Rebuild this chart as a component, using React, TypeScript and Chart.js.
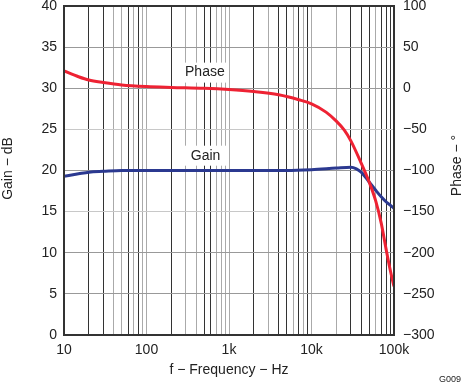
import React, { useEffect, useRef } from 'react';
import { Chart, registerables } from 'chart.js';

Chart.register(...registerables);

// ---- data ----
const phaseFreqs = [10, 15, 20, 30, 50, 100, 200, 500, 1000, 2000, 4000, 7000, 10000, 15000, 20000, 25000, 30000, 40000, 50000, 60000, 70000, 80000, 90000, 100000];
const phaseValues = [21, 14, 10, 7, 4, 2, 1, 0, -1.5, -4, -8, -14, -19, -29, -40, -51, -64, -91, -114, -137, -164, -195, -221, -241];

const gainFreqs = [10, 15, 20, 30, 50, 100, 1000, 5000, 10000, 20000, 30000, 35000, 40000, 50000, 60000, 70000, 80000, 90000, 100000];
const gainValues = [19.3, 19.6, 19.8, 19.9, 20.0, 20.0, 20.0, 20.0, 20.1, 20.3, 20.4, 20.2, 19.8, 18.6, 17.6, 16.8, 16.2, 15.8, 15.4];

const xTickValues = [10, 100, 1000, 10000, 100000];
const xTickLabels = ['10', '100', '1k', '10k', '100k'];
const xGridValues: number[] = [];
[10, 100, 1000, 10000].forEach((d) => {
  for (let m = 1; m < 10; m++) xGridValues.push(d * m);
});
xGridValues.push(100000);

const darkGridX = [20, 30, 60, 80, 200, 500, 600, 2000, 4000, 5000, 7000, 9000, 30000, 40000, 50000, 70000, 80000, 90000];
const lightGridY = [25, 15];

const FONT = "'Liberation Sans', Arial, Helvetica, sans-serif";
const TEXT = '#222';

const decorPlugin = {
  id: 'decor',
  beforeDatasetsDraw(chart: any) {
    const { ctx, scales } = chart;
    const x = scales.x;
    const y = scales.y;
    ctx.save();
    ctx.font = `14px ${FONT}`;
    ctx.textAlign = 'center';
    ctx.textBaseline = 'middle';
    const labels = [
      { text: 'Phase', xv: 510, yv: 31.9 },
      { text: 'Gain', xv: 520, yv: 21.8 },
    ];
    labels.forEach((l) => {
      const px = x.getPixelForValue(l.xv);
      const py = y.getPixelForValue(l.yv);
      ctx.fillStyle = '#fff';
      ctx.fillRect(px - 23, py - 10, 46, 20);
      ctx.fillStyle = TEXT;
      ctx.fillText(l.text, px, py);
    });
    ctx.restore();
  },
  afterDraw(chart: any) {
    const { ctx, chartArea } = chart;
    const { left, right, top, bottom } = chartArea;
    ctx.save();
    ctx.strokeStyle = '#333';
    ctx.lineWidth = 2;
    ctx.strokeRect(left, top, right - left, bottom - top);

    ctx.fillStyle = TEXT;
    ctx.font = `14px ${FONT}`;
    ctx.textAlign = 'center';
    ctx.textBaseline = 'middle';
    const cy = (top + bottom) / 2;
    const cx = (left + right) / 2;

    ctx.save();
    ctx.translate(8, cy - 2);
    ctx.rotate(-Math.PI / 2);
    ctx.fillText('Gain \u2212 dB', 0, 0);
    ctx.restore();

    ctx.save();
    ctx.translate(457, cy - 5);
    ctx.rotate(-Math.PI / 2);
    ctx.fillText('Phase \u2212 \u00b0', 0, 0);
    ctx.restore();

    ctx.fillText('f \u2212 Frequency \u2212 Hz', cx, 370);

    ctx.font = `9px ${FONT}`;
    ctx.textAlign = 'right';
    ctx.fillText('G009', 461, 380);
    ctx.restore();
  },
};

export default function App() {
  const ref = useRef<HTMLCanvasElement>(null);

  useEffect(() => {
    if (!ref.current) return;
    const chart = new Chart(ref.current, {
      type: 'line',
      data: {
        datasets: [
          {
            label: 'Gain',
            data: gainFreqs.map((f, i) => ({ x: f, y: gainValues[i] })),
            yAxisID: 'y',
            borderColor: '#2b3990',
            borderWidth: 3,
            pointRadius: 0,
            cubicInterpolationMode: 'monotone',
            order: 2,
          },
          {
            label: 'Phase',
            data: phaseFreqs.map((f, i) => ({ x: f, y: phaseValues[i] })),
            yAxisID: 'y2',
            borderColor: '#ee2233',
            borderWidth: 3,
            pointRadius: 0,
            cubicInterpolationMode: 'monotone',
            order: 1,
          },
        ],
      },
      options: {
        responsive: false,
        animation: false,
        layout: { padding: { top: 6, left: 0, right: 0, bottom: 0 } },
        plugins: {
          legend: { display: false },
          tooltip: { enabled: false },
        },
        scales: {
          x: {
            type: 'logarithmic',
            min: 10,
            max: 100000,
            afterBuildTicks: (s: any) => {
              s.ticks = xGridValues.map((v) => ({ value: v }));
            },
            afterFit: (s: any) => {
              s.height = 50;
            },
            ticks: {
              autoSkip: false,
              maxRotation: 0,
              padding: 7,
              color: TEXT,
              font: { family: FONT, size: 14 },
              callback: (v: any) => {
                const i = xTickValues.indexOf(Number(v));
                return i >= 0 ? xTickLabels[i] : '';
              },
            },
            grid: {
              drawTicks: false,
              lineWidth: 1,
              color: (c: any) => {
                const v = c.tick ? c.tick.value : 0;
                return darkGridX.indexOf(v) >= 0 ? '#333' : '#aaa';
              },
            },
            border: { display: false },
          },
          y: {
            position: 'left',
            min: 0,
            max: 40,
            afterFit: (s: any) => {
              s.width = 64;
              s.paddingTop = 0;
              s.paddingBottom = 0;
            },
            ticks: {
              stepSize: 5,
              padding: 7,
              color: TEXT,
              font: { family: FONT, size: 14, lineHeight: 1 },
            },
            grid: {
              drawTicks: false,
              lineWidth: 1,
              color: (c: any) => {
                const v = c.tick ? c.tick.value : 0;
                return lightGridY.indexOf(v) >= 0 ? '#c8c8c8' : '#999';
              },
            },
            border: { display: false },
          },
          y2: {
            position: 'right',
            min: -300,
            max: 100,
            afterFit: (s: any) => {
              s.width = 70;
              s.paddingTop = 0;
              s.paddingBottom = 0;
            },
            ticks: {
              stepSize: 50,
              padding: 9,
              color: TEXT,
              font: { family: FONT, size: 14, lineHeight: 1 },
              callback: (v: any) => String(v).replace('-', '\u2212'),
            },
            grid: { display: false, drawTicks: false },
            border: { display: false },
          },
        },
      },
      plugins: [decorPlugin],
    } as any);
    return () => chart.destroy();
  }, []);

  return (
    <div style={{ position: 'fixed', left: 0, top: 0, width: 464, height: 385, background: '#fff' }}>
      <canvas ref={ref} width={464} height={385} style={{ display: 'block' }} />
    </div>
  );
}
